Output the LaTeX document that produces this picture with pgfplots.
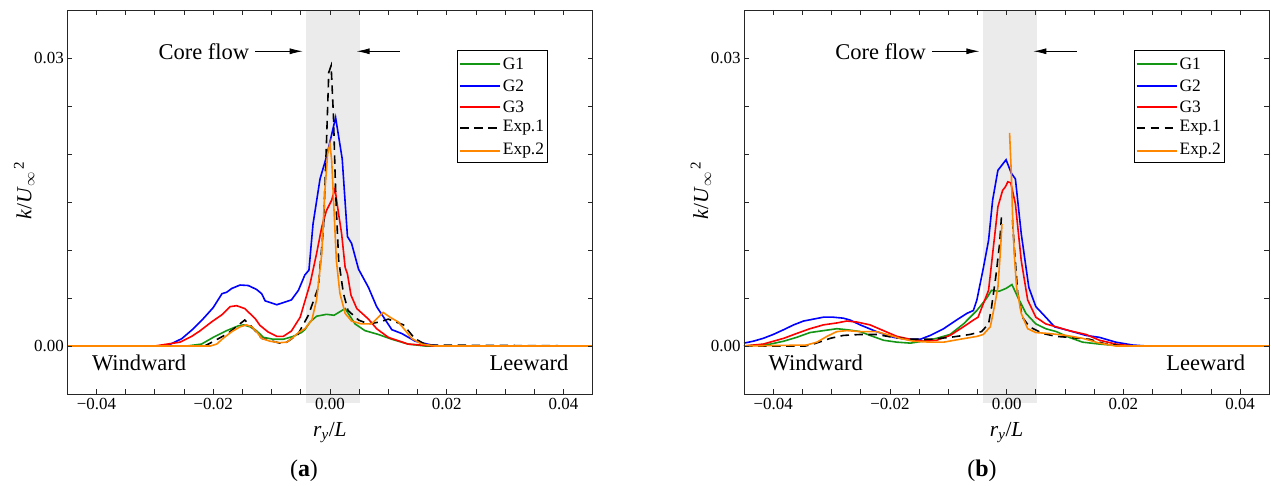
\documentclass[border=0pt]{standalone}
\usepackage{fontspec}
\setmainfont{Liberation Serif}
\usepackage{pgfplots}
\usepackage{pgfplotstable}
\pgfplotsset{compat=1.18}
\usetikzlibrary{arrows.meta}

\definecolor{cGone}{RGB}{20,150,20}
\definecolor{cGtwo}{RGB}{0,0,255}
\definecolor{cGthree}{RGB}{255,0,0}
\definecolor{cEtwo}{RGB}{255,135,0}
\definecolor{shadegray}{RGB}{235,235,235}

% ---------------- Panel (a) data ----------------
\pgfplotstableread{
x y
-0.045 0
-0.0245 0
-0.022 0.0002
-0.020 0.0009
-0.0177 0.0016
-0.0157 0.0021
-0.0148 0.0022
-0.0137 0.0020
-0.0126 0.0016
-0.0114 0.0009
-0.0097 0.0007
-0.0080 0.0007
-0.0063 0.0010
-0.0049 0.0014
-0.0043 0.0017
-0.0034 0.0025
-0.0023 0.0031
-0.0006 0.0033
0.0007 0.0032
0.0026 0.0039
0.0043 0.0023
0.0060 0.0016
0.0083 0.0012
0.0106 0.0007
0.0134 0.0002
0.0163 0.0
0.045 0
}\GoneA

\pgfplotstableread{
x y
-0.045 0
-0.0290 0
-0.0274 0.00017
-0.0254 0.00076
-0.0234 0.0018
-0.0217 0.00285
-0.0200 0.0040
-0.0185 0.00545
-0.0177 0.0056
-0.0168 0.0060
-0.0154 0.00635
-0.0140 0.0063
-0.0126 0.0059
-0.0117 0.00545
-0.0111 0.0047
-0.0091 0.0043
-0.0066 0.0048
-0.0054 0.0058
-0.0043 0.0074
-0.0036 0.0079
-0.0029 0.0127
-0.0017 0.0174
-0.0006 0.0197
0.00097 0.0238
0.0021 0.0195
0.0030 0.0114
0.0037 0.0107
0.0049 0.0080
0.0066 0.0061
0.0080 0.0041
0.0106 0.0017
0.0123 0.0013
0.0146 0.0005
0.0174 0.0001
0.0190 0
0.045 0
}\GtwoA

\pgfplotstableread{
x y
-0.045 0
-0.030 0
-0.0285 0.00014
-0.0257 0.0004
-0.0237 0.0010
-0.0223 0.00156
-0.0203 0.0025
-0.0185 0.00326
-0.0171 0.0041
-0.0160 0.0042
-0.0146 0.0039
-0.0128 0.00285
-0.0120 0.00215
-0.0106 0.00146
-0.0091 0.0010
-0.0080 0.0010
-0.0066 0.00156
-0.0051 0.0030
-0.0034 0.0065
-0.0023 0.0096
-0.0014 0.0124
-0.0006 0.0141
0.0003 0.0152
0.00086 0.0164
0.0014 0.0141
0.0020 0.0117
0.0026 0.0082
0.0030 0.0075
0.0036 0.0053
0.0046 0.0039
0.0066 0.0028
0.0080 0.0018
0.0100 0.0009
0.0134 0.0002
0.0177 0
0.045 0
}\GthreeA

\pgfplotstableread{
x y
-0.0215 0
-0.0205 0.0003
-0.0175 0.0013
-0.0146 0.0027
-0.0134 0.0020
-0.0117 0.0008
-0.0086 0.0003
-0.0074 0.0004
-0.0055 0.0012
-0.0037 0.0032
-0.0020 0.0061
-0.0011 0.0124
-0.0006 0.0211
-0.0002 0.0285
0.0002 0.0292
0.0006 0.0240
0.0009 0.0176
0.0011 0.0141
0.0015 0.0089
0.0023 0.0055
0.0031 0.0037
0.0049 0.0027
0.0066 0.0023
0.0085 0.0025
0.0100 0.0028
0.0126 0.0022
0.0145 0.0008
0.0165 0.0001
0.045 0
}\EoneA

\pgfplotstableread{
x y
-0.045 0
-0.0205 0
-0.0194 0.0002
-0.0183 0.0008
-0.0168 0.0015
-0.0154 0.0020
-0.0143 0.0022
-0.0134 0.0020
-0.0126 0.0015
-0.0117 0.0008
-0.0103 0.0005
-0.0086 0.00035
-0.0074 0.0004
-0.0063 0.0009
-0.0054 0.0014
-0.0043 0.0018
-0.0031 0.0027
-0.0023 0.0048
-0.0014 0.0096
-0.0009 0.0159
-0.0004 0.0200
0.0000 0.0211
0.0003 0.0193
0.0007 0.0141
0.0011 0.0089
0.0017 0.0055
0.0026 0.0034
0.0037 0.0026
0.0054 0.0023
0.0071 0.0023
0.0083 0.0030
0.0091 0.0035
0.0103 0.0030
0.0117 0.0025
0.0128 0.0017
0.0140 0.0008
0.0157 0.0002
0.0180 0
0.045 0
}\EtwoA

% ---------------- Panel (b) data ----------------
\pgfplotstableread{
x y
-0.045 0
-0.0405 0.0002
-0.0382 0.0005
-0.0360 0.0009
-0.0337 0.0014
-0.0314 0.0016
-0.0291 0.0018
-0.0274 0.0017
-0.0251 0.0015
-0.0234 0.0011
-0.0211 0.0006
-0.0188 0.0004
-0.0165 0.0003
-0.0143 0.0005
-0.0120 0.0008
-0.0097 0.0012
-0.0074 0.0023
-0.0051 0.0037
-0.0034 0.0050
-0.0026 0.0058
-0.0013 0.0057
-0.0001 0.0060
0.0009 0.0064
0.0019 0.0051
0.0033 0.0034
0.0050 0.0023
0.0067 0.0018
0.0085 0.0015
0.0107 0.0009
0.0130 0.0004
0.0159 0.0002
0.0199 0
0.045 0
}\GoneB

\pgfplotstableread{
x y
-0.0450 0.0003
-0.0434 0.0005
-0.0417 0.0008
-0.0400 0.0012
-0.0382 0.0017
-0.0365 0.0022
-0.0348 0.0026
-0.0331 0.0028
-0.0314 0.0030
-0.0297 0.0030
-0.0280 0.0029
-0.0268 0.0027
-0.0251 0.0022
-0.0223 0.0015
-0.0194 0.0009
-0.0171 0.0007
-0.0148 0.0007
-0.0131 0.0011
-0.0108 0.0018
-0.0086 0.0027
-0.0068 0.0034
-0.0057 0.0037
-0.0051 0.0048
-0.0040 0.0081
-0.0031 0.0110
-0.0024 0.0152
-0.0015 0.0183
-0.0001 0.0194
0.0008 0.0180
0.0015 0.0174
0.0025 0.0117
0.0038 0.0061
0.0050 0.0041
0.0067 0.0030
0.0082 0.0020
0.0107 0.0016
0.0136 0.0011
0.0159 0.0009
0.0187 0.0004
0.0216 0.0001
0.0240 0
0.045 0
}\GtwoB

\pgfplotstableread{
x y
-0.045 0
-0.0417 0.0002
-0.0382 0.0008
-0.0360 0.0013
-0.0337 0.0018
-0.0314 0.0022
-0.0291 0.0024
-0.0274 0.0026
-0.0257 0.0025
-0.0234 0.0022
-0.0211 0.0016
-0.0188 0.0010
-0.0165 0.0007
-0.0143 0.0005
-0.0120 0.0006
-0.0097 0.0011
-0.0074 0.0020
-0.0057 0.0027
-0.0049 0.0030
-0.0040 0.0044
-0.0031 0.0058
-0.0024 0.0096
-0.0015 0.0145
-0.0007 0.0162
-0.0002 0.0166
0.0002 0.0171
0.0007 0.0170
0.0015 0.0148
0.0025 0.0089
0.0036 0.0048
0.0050 0.0030
0.0067 0.0023
0.0085 0.0020
0.0107 0.0016
0.0136 0.0012
0.0159 0.0006
0.0187 0.0002
0.0216 0
0.045 0
}\GthreeB

\pgfplotstableread{
x y
-0.045 0
-0.0345 0
-0.0331 0.0002
-0.0302 0.0008
-0.0280 0.0011
-0.0251 0.0012
-0.0223 0.0012
-0.0194 0.0009
-0.0165 0.0007
-0.0131 0.0007
-0.0097 0.0009
-0.0063 0.0012
-0.0043 0.0015
-0.0031 0.0023
-0.0026 0.0040
-0.0018 0.0075
-0.0012 0.0107
-0.0009 0.0134
0.0000 nan
0.0010 0.0131
0.0013 0.0103
0.0019 0.0055
0.0027 0.0030
0.0039 0.0020
0.0062 0.0013
0.0085 0.0010
0.0107 0.0009
0.0142 0.0007
0.0170 0.0002
0.0200 0
0.045 0
}\EoneB

\pgfplotstableread{
x y
-0.045 0
-0.0343 0.0001
-0.0325 0.0004
-0.0308 0.0010
-0.0291 0.0015
-0.0274 0.0016
-0.0251 0.0015
-0.0223 0.0015
-0.0205 0.0012
-0.0183 0.0008
-0.0160 0.0005
-0.0131 0.0004
-0.0108 0.0004
-0.0080 0.0007
-0.0051 0.0010
-0.0040 0.0012
-0.0028 0.0020
-0.0021 0.0041
-0.0015 0.0061
-0.0011 0.0096
-0.0008 0.0127
-0.0002 nan
0.0005 0.0222
0.0008 0.0180
0.0010 0.0138
0.0013 0.0096
0.0017 0.0061
0.0025 0.0034
0.0036 0.0018
0.0050 0.0014
0.0073 0.0013
0.0102 0.0011
0.0130 0.0008
0.0159 0.0003
0.0187 0
0.045 0
}\EtwoB

\pgfplotsset{
  panel/.style={
    scale only axis, width=525.3bp, height=384bp,
    xmin=-0.045, xmax=0.045, ymin=-0.005, ymax=0.035,
    scaled x ticks=false, scaled y ticks=false,
    xtick={-0.04,-0.02,0,0.02,0.04},
    xticklabels={−0.04,−0.02,0.00,0.02,0.04},
    minor xtick={-0.035,-0.03,-0.025,-0.015,-0.01,-0.005,0.005,0.01,0.015,0.025,0.03,0.035},
    ytick={0,0.03}, yticklabels={0.00,0.03},
    minor ytick={0.005,0.01,0.015,0.02,0.025},
    tick align=inside, major tick length=5bp, minor tick length=5bp,
    every tick/.style={black!85, line width=0.7bp},
    axis line style={black!85, line width=0.9bp},
    tick label style={font=\fontsize{17}{20}\selectfont},
    xticklabel style={yshift=-1bp},
    label style={font=\fontsize{21.5}{25}\selectfont},
    xlabel={\textit{r}\textsubscript{\textit{y}}/\textit{L}},
    ylabel={\textit{k}/\textit{U}\textsubscript{$\infty$}\textsuperscript{\,2}},
    xlabel style={at={(axis description cs:0.5,-0.1)}, anchor=center},
    ylabel style={at={(axis description cs:-0.082,0.53)}, anchor=center},
    clip=false, axis on top,
    unbounded coords=jump,
    every axis plot/.append style={line width=1.6bp},
  },
  gone/.style={cGone},
  gtwo/.style={cGtwo},
  gthree/.style={cGthree},
  eone/.style={black, dash pattern=on 8.5bp off 5.5bp},
  etwo/.style={cEtwo},
}

\newcommand{\decor}{%
  \fill[shadegray] (axis cs:-0.0041,-0.0059) rectangle (axis cs:0.0052,0.035);
  \node[font=\fontsize{22.6}{26}\selectfont] at (axis cs:-0.0216,0.0307) {Core flow};
  \draw[black, line width=0.8bp, -{Latex[length=13bp,width=6bp]}] (axis cs:-0.01277,0.0307) -- (axis cs:-0.00467,0.0307);
  \draw[black, line width=0.8bp, -{Latex[length=13bp,width=6bp]}] (axis cs:0.01199,0.0307) -- (axis cs:0.00457,0.0307);
  \node[font=\fontsize{22.6}{26}\selectfont] at (axis cs:-0.0327,-0.0018) {Windward};
  \node[font=\fontsize{22.6}{26}\selectfont] at (axis cs:0.0341,-0.0018) {Leeward};
}

% legend key: #1 = horizontal offset of the panel
\newcommand{\mylegend}[1]{%
  \begin{scope}[xshift=#1]
    \draw[black, line width=0.8bp, fill=white] (457.3bp,323.7bp) rectangle (547.7bp,436bp);
    \draw[cGone, line width=2bp] (460bp,422bp) -- (500bp,422bp);
    \draw[cGtwo, line width=2bp] (460bp,400bp) -- (500bp,400bp);
    \draw[cGthree, line width=2bp] (460bp,379bp) -- (500bp,379bp);
    \draw[black, line width=2bp, dash pattern=on 8.5bp off 5.5bp] (460bp,358bp) -- (500bp,358bp);
    \draw[cEtwo, line width=2bp] (460bp,335bp) -- (500bp,335bp);
    \begin{scope}[every node/.style={anchor=west, inner sep=0pt, font=\fontsize{17.5}{20}\selectfont}]
      \node at (502.7bp,422bp) {G1};
      \node at (502.7bp,400bp) {G2};
      \node at (502.7bp,379bp) {G3};
      \node at (502.7bp,358bp) {Exp.1};
      \node at (502.7bp,335bp) {Exp.2};
    \end{scope}
  \end{scope}}

\begin{document}
\begin{tikzpicture}
\useasboundingbox (0,0) rectangle (1271bp,486bp);

\begin{axis}[panel, at={(67.3bp,92bp)}, anchor=south west]
  \decor
  \addplot[gone] table {\GoneA};
  \addplot[gtwo] table {\GtwoA};
  \addplot[gthree] table {\GthreeA};
  \addplot[eone] table {\EoneA};
  \addplot[etwo] table {\EtwoA};
\end{axis}

\begin{axis}[panel, at={(744bp,92bp)}, anchor=south west]
  \decor
  \addplot[gone] table {\GoneB};
  \addplot[gtwo] table {\GtwoB};
  \addplot[gthree] table {\GthreeB};
  \addplot[eone] table {\EoneB};
  \addplot[etwo] table {\EtwoB};
\end{axis}

\mylegend{0bp}
\mylegend{676.7bp}

\node[font=\fontsize{24}{28}\selectfont] at (304bp,15bp) {(\textbf{a})};
\node[font=\fontsize{24}{28}\selectfont] at (982bp,15bp) {(\textbf{b})};
\end{tikzpicture}
\end{document}
